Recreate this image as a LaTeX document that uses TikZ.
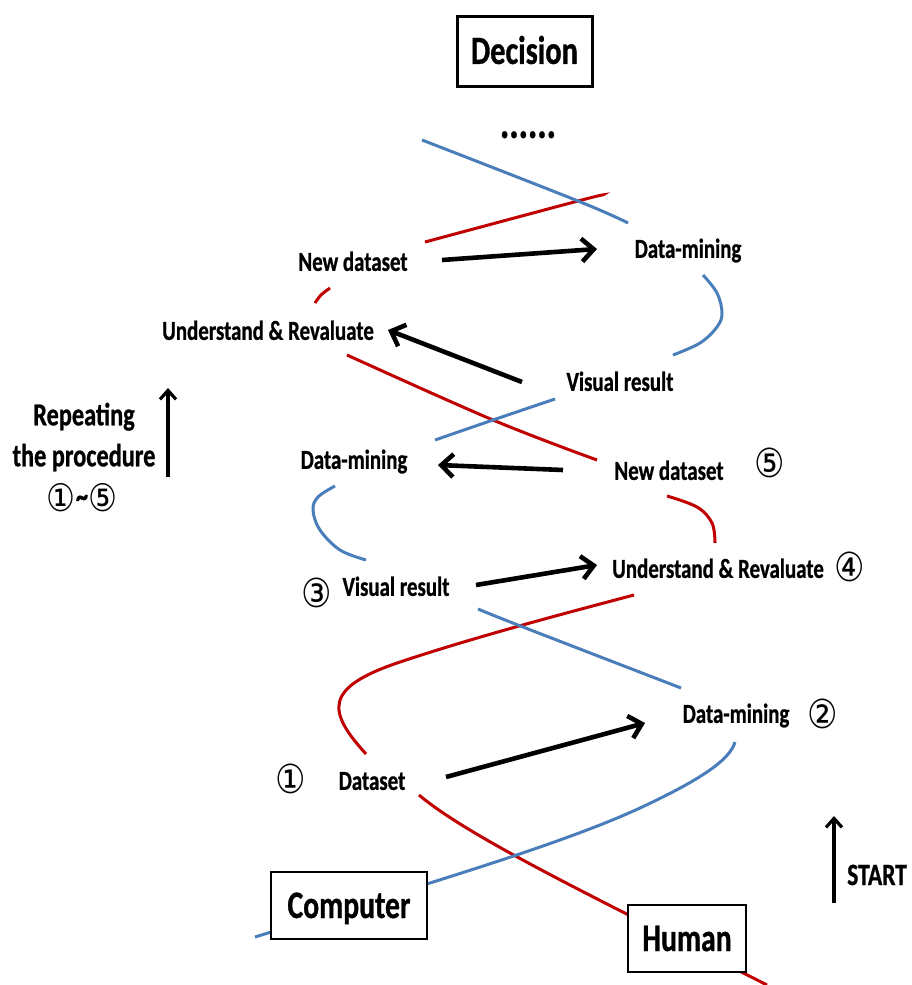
\documentclass[tikz,border=0pt]{standalone}
\usepackage{fontspec}
\setmainfont{Carlito}[FakeStretch=0.76, BoldFeatures={FakeBold=0.8}]
\newfontfamily\circfont{DejaVu Sans}[FakeStretch=0.85]
\usetikzlibrary{arrows.meta}
\definecolor{hred}{RGB}{192,0,0}
\definecolor{cblue}{RGB}{74,126,187}
\begin{document}
\begin{tikzpicture}[x=1pt,y=-1pt,
  lab/.style={font=\fontsize{27.5}{30}\selectfont\bfseries, inner sep=0pt, text height=17.7pt, text depth=0pt},
  reptext/.style={font=\fontsize{32}{36}\selectfont\bfseries, inner sep=0pt, text height=20.6pt, text depth=0pt},
  num/.style={font=\circfont\fontsize{40}{42}\selectfont, inner sep=0pt},
  boxed/.style={draw, fill=white, line width=2pt, inner sep=0pt, font=\fontsize{39}{42}\selectfont\bfseries, text height=25pt, text depth=0pt},
  redc/.style={draw=hred, line width=3pt},
  bluec/.style={draw=cblue, line width=3pt},
  arr/.style={line width=4.6pt, -{Straight Barb[length=12pt,width=23pt]}},
  uparr/.style={line width=3.2pt, -{Straight Barb[length=9pt,width=16pt]}},
]
\useasboundingbox (0,0) rectangle (912,985);

% Human (red) strand
\draw[redc] (419,795) .. controls (470,838) and (600,900) .. (767,985);
\draw[redc] (366,754) .. controls (328,712) and (322,688) .. (400,662) .. controls (478,636) and (570,612) .. (634,595);
\draw[redc] plot[smooth, tension=0.6] coordinates {(715,543) (712,523) (697,507) (667,496)};
\draw[redc] plot[smooth, tension=0.6] coordinates {(597,460) (493,420) (347,355)};
\draw[redc] plot[smooth, tension=0.6] coordinates {(315,303) (321,295) (330,288)};
\draw[redc] plot[smooth, tension=0.6] coordinates {(425,242) (578,201) (603,195)};

% Computer (blue) strand
\draw[bluec] (255,937) .. controls (420,886) and (560,845) .. (640,808) .. controls (700,780) and (730,760) .. (735,742);
\draw[bluec] plot[smooth, tension=0.6] coordinates {(681,688) (523,627) (478,609)};
\draw[bluec] plot[smooth, tension=0.6] coordinates {(366,560) (340,550) (320,530) (313,510) (318,497) (335,486)};
\draw[bluec] plot[smooth, tension=0.6] coordinates {(435,440) (493,420) (555,399)};
\draw[bluec] plot[smooth, tension=0.6] coordinates {(673,355) (700,343) (717,327) (722,313) (717,293) (703,275)};
\draw[bluec] plot[smooth, tension=0.6] coordinates {(628,223) (578,201) (422,140)};

% boxes
\node[boxed, line width=3pt, minimum width=135pt, minimum height=70pt, font=\fontsize{40}{44}\selectfont\bfseries, text height=25.8pt] (decision) at (524.5,51) {Decision};
\node[boxed, minimum width=156pt, minimum height=67pt] (computer) at (349,905.5) {Computer};
\node[boxed, minimum width=118pt, minimum height=67pt] (human) at (687,938.5) {Human};

% labels
\node[lab, font=\fontsize{46}{50}\selectfont\bfseries] (dots) at (528,129) {......};
\node[lab] (nd1) at (353,262) {New dataset};
\node[lab] (dm1) at (688,249) {Data-mining};
\node[lab] (ur1) at (268,331) {Understand \& Revaluate};
\node[lab] (vr1) at (620,382) {Visual result};
\node[lab] (dm2) at (354,460) {Data-mining};
\node[lab] (nd2) at (669,471) {New dataset};
\node[lab] (ur2) at (718,569) {Understand \& Revaluate};
\node[lab] (vr2) at (396,587) {Visual result};
\node[lab] (dm3) at (736,714) {Data-mining};
\node[lab] (ds) at (372,781) {Dataset};

\node[num] (n5) at (770,463) {⑤};
\node[num] (n4) at (850,567) {④};
\node[num] (n3) at (317,593) {③};
\node[num] (n2) at (823,714) {②};
\node[num] (n1) at (291,779) {①};

\node[reptext] (rep1) at (84,415) {Repeating};
\node[reptext] (rep2) at (84,456) {the procedure};
\node[inner sep=0pt] (rep3) at (82,498) {{\circfont\fontsize{38}{40}\selectfont ①}{\fontsize{32}{34}\selectfont\bfseries\raisebox{5pt}{\textasciitilde}}{\circfont\fontsize{38}{40}\selectfont ⑤}};
\node[reptext, font=\fontsize{31}{34}\selectfont\bfseries, text height=20pt, anchor=west] (start) at (847,875) {START};

% arrow end points
\coordinate (a1s) at (442,260); \coordinate (a1e) at (597,249);
\coordinate (a2s) at (522,382); \coordinate (a2e) at (388,330);
\coordinate (a3s) at (563,470); \coordinate (a3e) at (438,465);
\coordinate (a4s) at (476,585); \coordinate (a4e) at (597,565);
\coordinate (a5s) at (446,777); \coordinate (a5e) at (645,723);
\coordinate (rps) at (168,477); \coordinate (rpe) at (168,388);
\coordinate (sts) at (834,903); \coordinate (ste) at (834,816);

\draw[arr] (a1s) -- (a1e);
\draw[arr] (a2s) -- (a2e);
\draw[arr] (a3s) -- (a3e);
\draw[arr] (a4s) -- (a4e);
\draw[arr] (a5s) -- (a5e);
\draw[uparr] (rps) -- (rpe);
\draw[uparr] (sts) -- (ste);
\end{tikzpicture}
\end{document}
